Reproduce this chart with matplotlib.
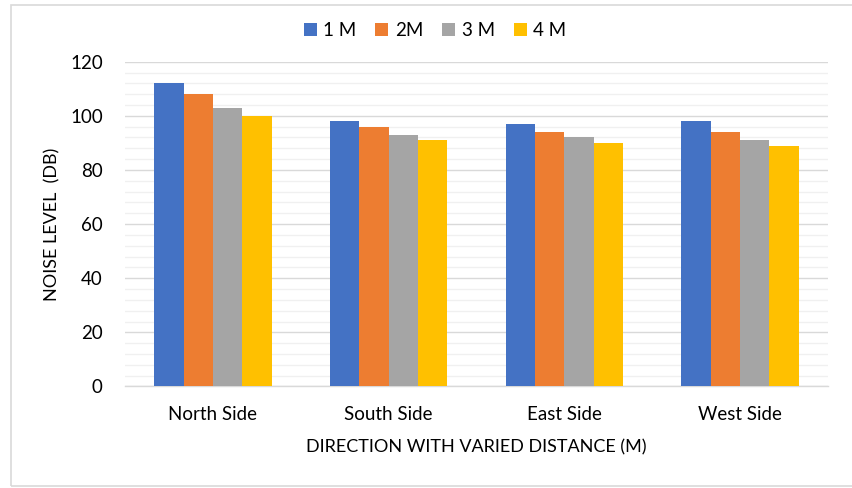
import numpy as np
import matplotlib.pyplot as plt
from matplotlib.patches import Rectangle
from matplotlib.ticker import MultipleLocator

plt.rcParams['font.family'] = ['Lato', 'DejaVu Sans']

categories = ["North Side", "South Side", "East Side", "West Side"]
series_names = ["1 M", "2M", "3 M", "4 M"]
values = {
    "1 M": [112, 98, 97, 98],
    "2M": [108, 96, 94, 94],
    "3 M": [103, 93, 92, 91],
    "4 M": [100, 91, 90, 89],
}
colors = ["#4472C4", "#ED7D31", "#A5A5A5", "#FFC000"]

fig = plt.figure(figsize=(8.52, 4.88), dpi=100)
ax = fig.add_axes([0.1467, 0.208, 0.8251, 0.6656])

# chart border (light gray frame)
fig.patches.append(Rectangle((11 / 852, 2 / 488), 1.0, 481 / 488,
                             transform=fig.transFigure, fill=False,
                             edgecolor="#D9D9D9", linewidth=1.2))

x = np.arange(len(categories))
w = 0.167
for j, name in enumerate(series_names):
    ax.bar(x + (j - 1.5) * w, values[name], width=w, color=colors[j],
           label=name, zorder=3)

ax.set_xlim(-0.5, len(categories) - 0.5)
ax.set_ylim(0, 120)
ax.yaxis.set_major_locator(MultipleLocator(20))
ax.yaxis.set_minor_locator(MultipleLocator(4))
ax.grid(axis="y", which="major", color="#D9D9D9", linewidth=1.0, zorder=0)
ax.grid(axis="y", which="minor", color="#F0F0F0", linewidth=1.0, zorder=0)

for s in ["top", "right", "left"]:
    ax.spines[s].set_visible(False)
ax.spines["bottom"].set_color("#D9D9D9")
ax.spines["bottom"].set_linewidth(1.0)

ax.set_xticks(x)
ax.set_xticklabels(categories)
ax.tick_params(axis="both", which="both", length=0, labelsize=13.5,
               labelcolor="#000000")
ax.tick_params(axis="y", pad=16)
ax.tick_params(axis="x", pad=14)

ax.set_ylabel("NOISE LEVEL  (DB)", fontsize=13, labelpad=7)
ax.set_xlabel("DIRECTION WITH VARIED DISTANCE (M)", fontsize=13, labelpad=12)

ax.legend(loc="center", bbox_to_anchor=(0.441, 1.095), ncol=4,
          frameon=False, fontsize=13.5, handlelength=0.7, handleheight=0.7,
          handletextpad=0.35, columnspacing=1.0)

fig.savefig("out.png", dpi=100)
